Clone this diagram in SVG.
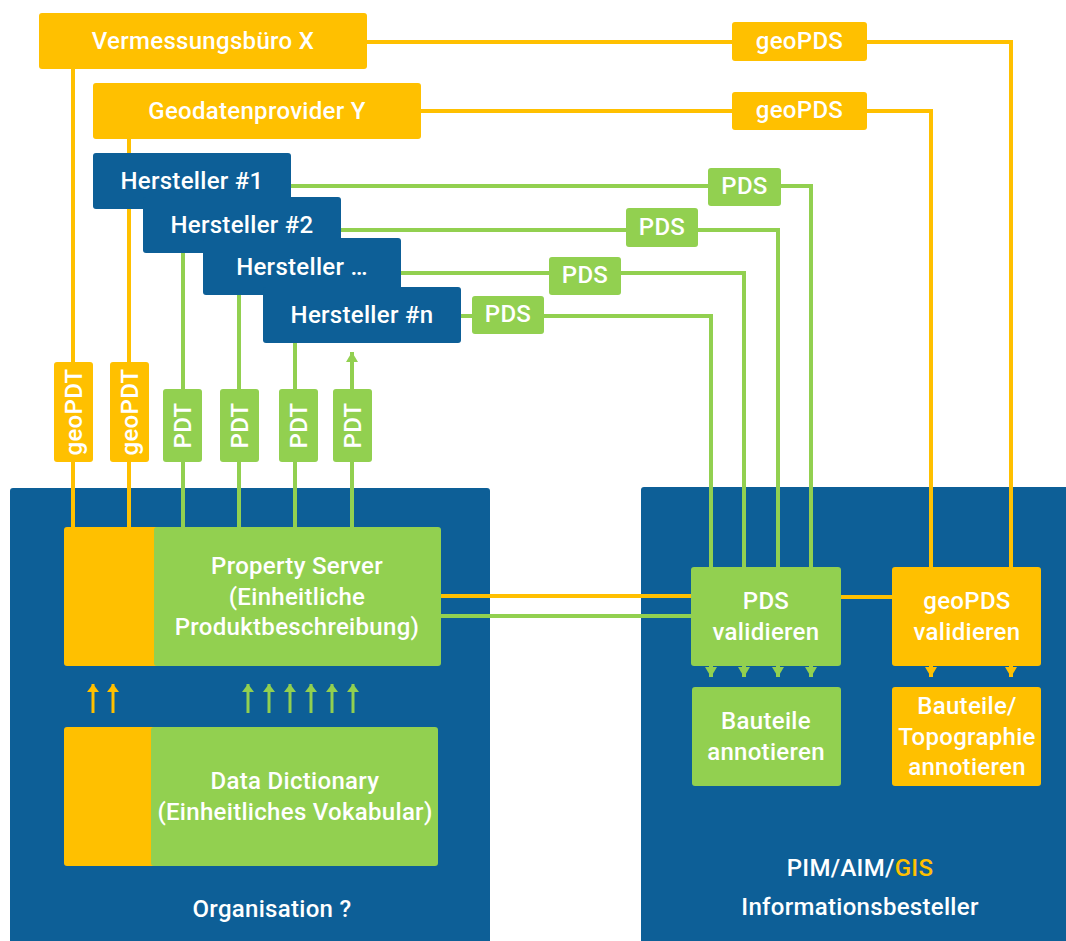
<svg xmlns="http://www.w3.org/2000/svg" width="1066" height="941" viewBox="0 0 1066 941">
<style>
.t{font-family:Roboto,"Liberation Sans",sans-serif;font-weight:500;font-size:24px;letter-spacing:0.3px;fill:#fff;text-anchor:middle;dominant-baseline:central}
.y{fill:#FFC000}
.g{fill:#92D050}
.b{fill:#0D5F97}
.ly{stroke:#FFC000;stroke-width:4;fill:none}
.lg{stroke:#92D050;stroke-width:4;fill:none}
.ay{stroke:#FFC000;stroke-width:3;fill:none}
.ag{stroke:#92D050;stroke-width:3;fill:none}
</style>
<defs>
<marker id="mg" markerUnits="userSpaceOnUse" markerWidth="12" markerHeight="12" refX="10" refY="6" orient="auto"><path d="M0,0 L10,6 L0,12 z" fill="#92D050"/></marker>
<marker id="my" markerUnits="userSpaceOnUse" markerWidth="12" markerHeight="12" refX="10" refY="6" orient="auto"><path d="M0,0 L10,6 L0,12 z" fill="#FFC000"/></marker>
<marker id="sg" markerUnits="userSpaceOnUse" markerWidth="12" markerHeight="12" refX="8" refY="6" orient="auto"><path d="M0,0 L8,6 L0,12 z" fill="#92D050"/></marker>
<marker id="sy" markerUnits="userSpaceOnUse" markerWidth="12" markerHeight="12" refX="8" refY="6" orient="auto"><path d="M0,0 L8,6 L0,12 z" fill="#FFC000"/></marker>
</defs>
<rect width="1066" height="941" fill="#fff"/>
<g id="container-left"><rect x="10" y="488" width="480" height="460" rx="3" class="b"/><text class="t" x="272" y="909">Organisation ?</text></g>
<g id="container-right"><rect x="641" y="487" width="430" height="460" rx="3" class="b"/><text class="t" x="860" y="868">PIM/AIM/<tspan fill="#FFC000">GIS</tspan></text><text class="t" x="860" y="907">Informationsbesteller</text></g>
<g id="connectors">
<path class="ly" d="M367,42 H1011 V677" marker-end="url(#my)"/>
<path class="ly" d="M421,111 H931 V677" marker-end="url(#my)"/>
<path class="lg" d="M291,186 H811 V677" marker-end="url(#mg)"/>
<path class="lg" d="M341,230 H778 V677" marker-end="url(#mg)"/>
<path class="lg" d="M401,273 H744 V677" marker-end="url(#mg)"/>
<path class="lg" d="M461,316 H711 V677" marker-end="url(#mg)"/>
<path class="ly" d="M73,69 V527"/>
<path class="ly" d="M129,139 V527"/>
<path class="lg" d="M183,209 V527"/>
<path class="lg" d="M239,295 V527"/>
<path class="lg" d="M295,343 V527"/>
<path class="lg" d="M352,527 V352" marker-end="url(#mg)"/>
<path class="ly" d="M441,596 H691"/>
<path class="lg" d="M441,616 H691"/>
<path class="ly" d="M841,597 H892"/>
<path class="ay" d="M93,713 V684" marker-end="url(#sy)"/>
<path class="ay" d="M113,713 V684" marker-end="url(#sy)"/>
<path class="ag" d="M248,713 V684" marker-end="url(#sg)"/>
<path class="ag" d="M269,713 V684" marker-end="url(#sg)"/>
<path class="ag" d="M290,713 V684" marker-end="url(#sg)"/>
<path class="ag" d="M311,713 V684" marker-end="url(#sg)"/>
<path class="ag" d="M332,713 V684" marker-end="url(#sg)"/>
<path class="ag" d="M353,713 V684" marker-end="url(#sg)"/>
</g>
<g id="vermessungsbuero"><rect x="39" y="13" width="328" height="56" rx="3" class="y"/><text class="t" x="203" y="41">Vermessungsbüro X</text></g>
<g id="geodatenprovider"><rect x="93" y="83" width="328" height="56" rx="3" class="y"/><text class="t" x="257" y="111">Geodatenprovider Y</text></g>
<g id="hersteller1"><rect x="93" y="153" width="198" height="56" rx="3" class="b"/><text class="t" x="192" y="181">Hersteller #1</text></g>
<g id="hersteller2"><rect x="143" y="197" width="198" height="56" rx="3" class="b"/><text class="t" x="242" y="225">Hersteller #2</text></g>
<g id="hersteller3"><rect x="203" y="238" width="198" height="57" rx="3" class="b"/><text class="t" x="302" y="267">Hersteller …</text></g>
<g id="herstellern"><rect x="263" y="287" width="198" height="56" rx="3" class="b"/><text class="t" x="362" y="315">Hersteller #n</text></g>
<g id="geopds-label1"><rect x="732" y="22" width="135" height="39" rx="3" class="y"/><text class="t" x="799.5" y="41">geoPDS</text></g>
<g id="geopds-label2"><rect x="732" y="92" width="135" height="38" rx="3" class="y"/><text class="t" x="799.5" y="110">geoPDS</text></g>
<g id="pds-label1"><rect x="708" y="168" width="73" height="38" rx="3" class="g"/><text class="t" x="744.5" y="186">PDS</text></g>
<g id="pds-label2"><rect x="626" y="208" width="72" height="39" rx="3" class="g"/><text class="t" x="662" y="227">PDS</text></g>
<g id="pds-label3"><rect x="549" y="257" width="72" height="38" rx="3" class="g"/><text class="t" x="585" y="275">PDS</text></g>
<g id="pds-label4"><rect x="472" y="296" width="72" height="38" rx="3" class="g"/><text class="t" x="508" y="314">PDS</text></g>
<g id="geopdt1"><rect x="54" y="362" width="39" height="100" rx="3" class="y"/><text class="t" transform="translate(73.5,412) rotate(-90)">geoPDT</text></g>
<g id="geopdt2"><rect x="110" y="362" width="39" height="100" rx="3" class="y"/><text class="t" transform="translate(129.5,412) rotate(-90)">geoPDT</text></g>
<g id="pdt1"><rect x="163" y="389" width="39" height="73" rx="3" class="g"/><text class="t" transform="translate(182.5,425.5) rotate(-90)">PDT</text></g>
<g id="pdt2"><rect x="220" y="389" width="39" height="73" rx="3" class="g"/><text class="t" transform="translate(239.5,425.5) rotate(-90)">PDT</text></g>
<g id="pdt3"><rect x="279" y="389" width="39" height="73" rx="3" class="g"/><text class="t" transform="translate(298.5,425.5) rotate(-90)">PDT</text></g>
<g id="pdt4"><rect x="333" y="389" width="39" height="73" rx="3" class="g"/><text class="t" transform="translate(352.5,425.5) rotate(-90)">PDT</text></g>
<g id="property-server"><rect x="64" y="527" width="137" height="139" rx="3" class="y"/><rect x="154" y="527" width="287" height="139" rx="3" class="g"/><text class="t" x="297" y="566">Property Server</text><text class="t" x="297" y="597">(Einheitliche</text><text class="t" x="297" y="627">Produktbeschreibung)</text></g>
<g id="data-dictionary"><rect x="64" y="727" width="137" height="139" rx="3" class="y"/><rect x="151" y="727" width="287" height="139" rx="3" class="g"/><text class="t" x="295" y="781">Data Dictionary</text><text class="t" x="295" y="812">(Einheitliches Vokabular)</text></g>
<g id="pds-validieren"><rect x="691" y="567" width="150" height="99" rx="3" class="g"/><text class="t" x="766" y="601">PDS</text><text class="t" x="766" y="632">validieren</text></g>
<g id="geopds-validieren"><rect x="892" y="567" width="149" height="99" rx="3" class="y"/><text class="t" x="967" y="601">geoPDS</text><text class="t" x="967" y="632">validieren</text></g>
<g id="bauteile-annotieren"><rect x="692" y="687" width="149" height="99" rx="3" class="g"/><text class="t" x="766" y="721">Bauteile</text><text class="t" x="766" y="752">annotieren</text></g>
<g id="topographie-annotieren"><rect x="892" y="687" width="149" height="99" rx="3" class="y"/><text class="t" x="967" y="706">Bauteile/</text><text class="t" x="967" y="737">Topographie</text><text class="t" x="967" y="767">annotieren</text></g>
</svg>
